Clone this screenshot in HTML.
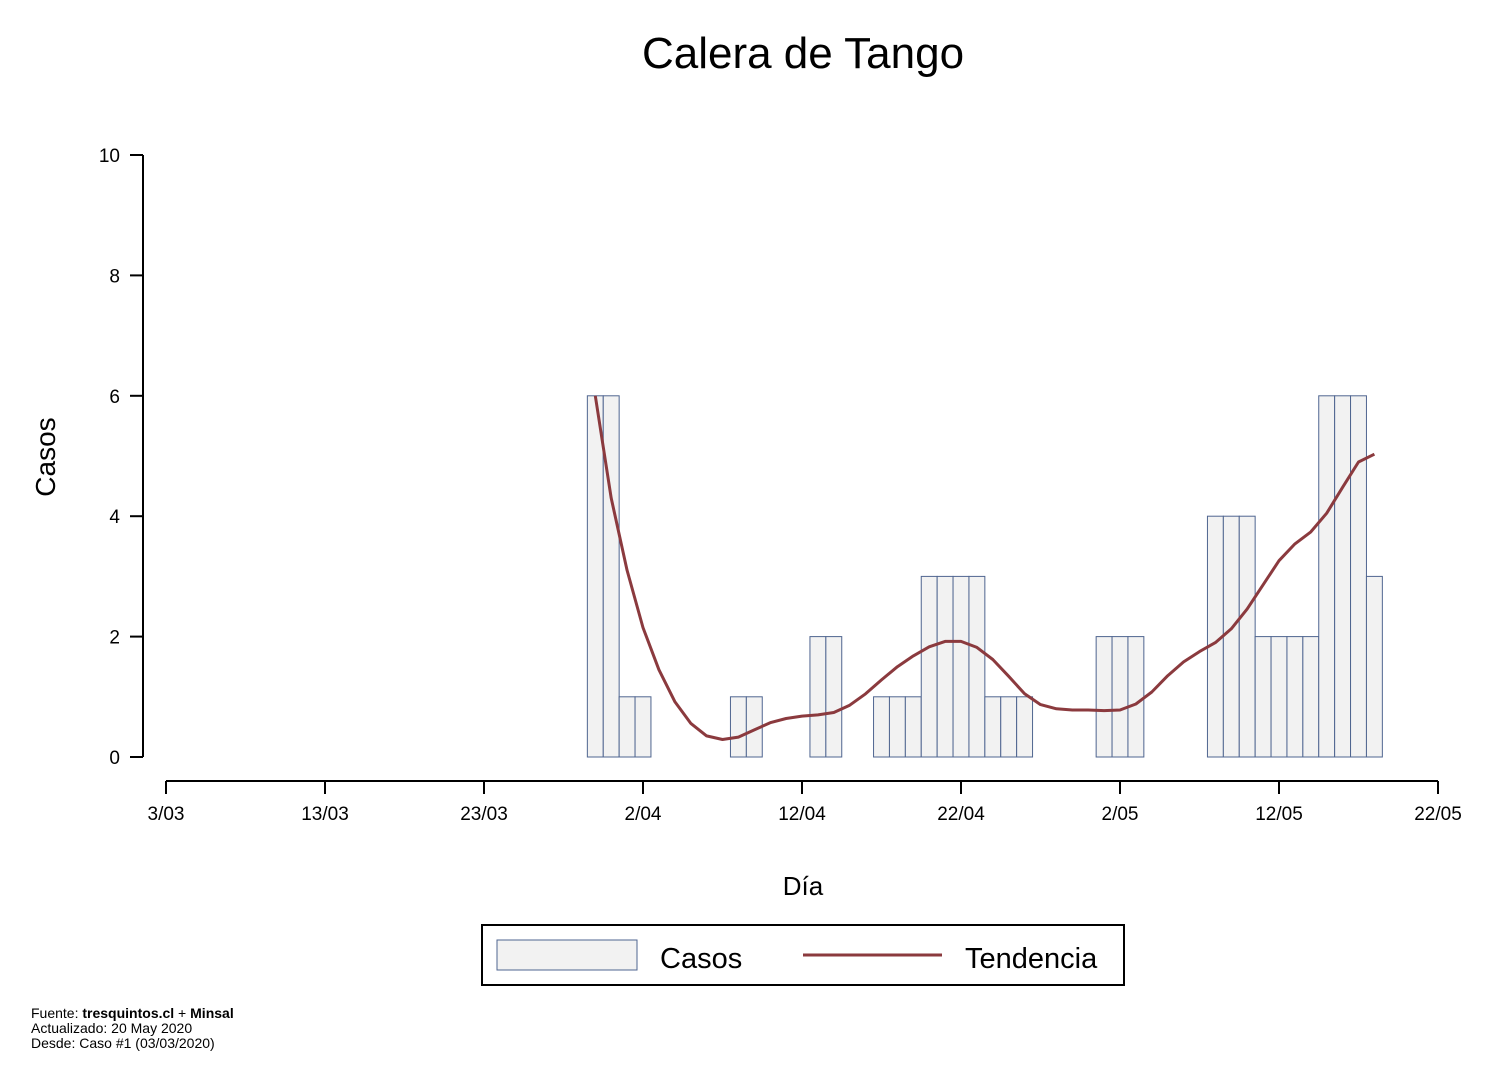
<!DOCTYPE html>
<html><head><meta charset="utf-8"><style>
body{margin:0;background:#fff;}
svg{display:block;font-family:"Liberation Sans",Arial,sans-serif;}
</style></head><body>
<svg id="c" width="1488" height="1082">
<text x="803" y="68" font-size="44" text-anchor="middle">Calera de Tango</text>
<text transform="translate(55,457) rotate(-90)" font-size="28" text-anchor="middle">Casos</text>
<text x="803" y="895" font-size="26" text-anchor="middle">Día</text>
<g id="bars"></g>
<g id="axes"></g>
<g>
<rect x="482" y="925" width="642" height="60" fill="#fff" stroke="#000" stroke-width="2"/>
<rect x="497" y="940" width="140" height="30" fill="#f2f2f2" stroke="#4f6590" stroke-width="1"/>
<text x="660" y="968" font-size="29">Casos</text>
<line x1="803" y1="955" x2="942" y2="955" stroke="#8b3a3e" stroke-width="3"/>
<text x="965" y="968" font-size="29">Tendencia</text>
</g>
<g font-size="14">
<text x="31" y="1018">Fuente: <tspan font-weight="bold">tresquintos.cl</tspan> + <tspan font-weight="bold">Minsal</tspan></text>
<text x="31" y="1033">Actualizado: 20 May 2020</text>
<text x="31" y="1048">Desde: Caso #1  (03/03/2020)</text>
</g>
</svg>
<script>
const startDay = 27;
const cases = [6,6,1,1,0,0,0,0,0,1,1,0,0,0,2,2,0,0,1,1,1,3,3,3,3,1,1,1,0,0,0,0,2,2,2,0,0,0,0,4,4,4,2,2,2,2,6,6,6,3];
const trend = [6.0,4.3,3.1,2.15,1.45,0.92,0.56,0.35,0.29,0.33,0.45,0.57,0.64,0.68,0.70,0.74,0.86,1.05,1.28,1.5,1.68,1.83,1.92,1.92,1.82,1.62,1.34,1.05,0.87,0.80,0.78,0.78,0.77,0.78,0.88,1.08,1.35,1.58,1.75,1.90,2.13,2.46,2.86,3.26,3.54,3.74,4.05,4.48,4.90,5.03];
const yTicks = [0,2,4,6,8,10];
const xTickLabels = ["3/03","13/03","23/03","2/04","12/04","22/04","2/05","12/05","22/05"];
const xTickDays = [0,10,20,30,40,50,60,70,80];
const NS="http://www.w3.org/2000/svg";
const xs = d => 166 + d*15.9;
const ys = v => 757 - v*60.2;
function mk(tag, attrs, parent){const e=document.createElementNS(NS,tag);for(const k in attrs)e.setAttribute(k,attrs[k]);parent.appendChild(e);return e;}
const bars=document.getElementById('bars');
cases.forEach((v,i)=>{
  if(v<=0)return;
  const d=startDay+i;
  const r=mk('rect',{x:xs(d-0.5),y:ys(v),width:15.9,height:ys(0)-ys(v),fill:'#f2f2f2',stroke:'#4f6590','stroke-width':1},bars);
  
  
});
const pts=trend.map((v,i)=>xs(startDay+i).toFixed(1)+','+ys(v).toFixed(1)).join(' ');
const pl=mk('polyline',{points:pts,fill:'none',stroke:'#8b3a3e','stroke-width':3,'stroke-linejoin':'round'},bars);


const ax=document.getElementById('axes');
mk('line',{x1:143,y1:ys(10),x2:143,y2:ys(0),stroke:'#000','stroke-width':2},ax);
yTicks.forEach(t=>{
  mk('line',{x1:130,y1:ys(t),x2:143,y2:ys(t),stroke:'#000','stroke-width':2},ax);
  const tx=mk('text',{x:120,y:ys(t)+7,'font-size':19,'text-anchor':'end'},ax);tx.textContent=t;
  
  
});
mk('line',{x1:xs(0),y1:781,x2:xs(80),y2:781,stroke:'#000','stroke-width':2},ax);
xTickDays.forEach((d,i)=>{
  mk('line',{x1:xs(d),y1:781,x2:xs(d),y2:794,stroke:'#000','stroke-width':2},ax);
  const tx=mk('text',{x:xs(d),y:820,'font-size':19,'text-anchor':'middle'},ax);tx.textContent=xTickLabels[i];
  
  
});
</script>
</body></html>
